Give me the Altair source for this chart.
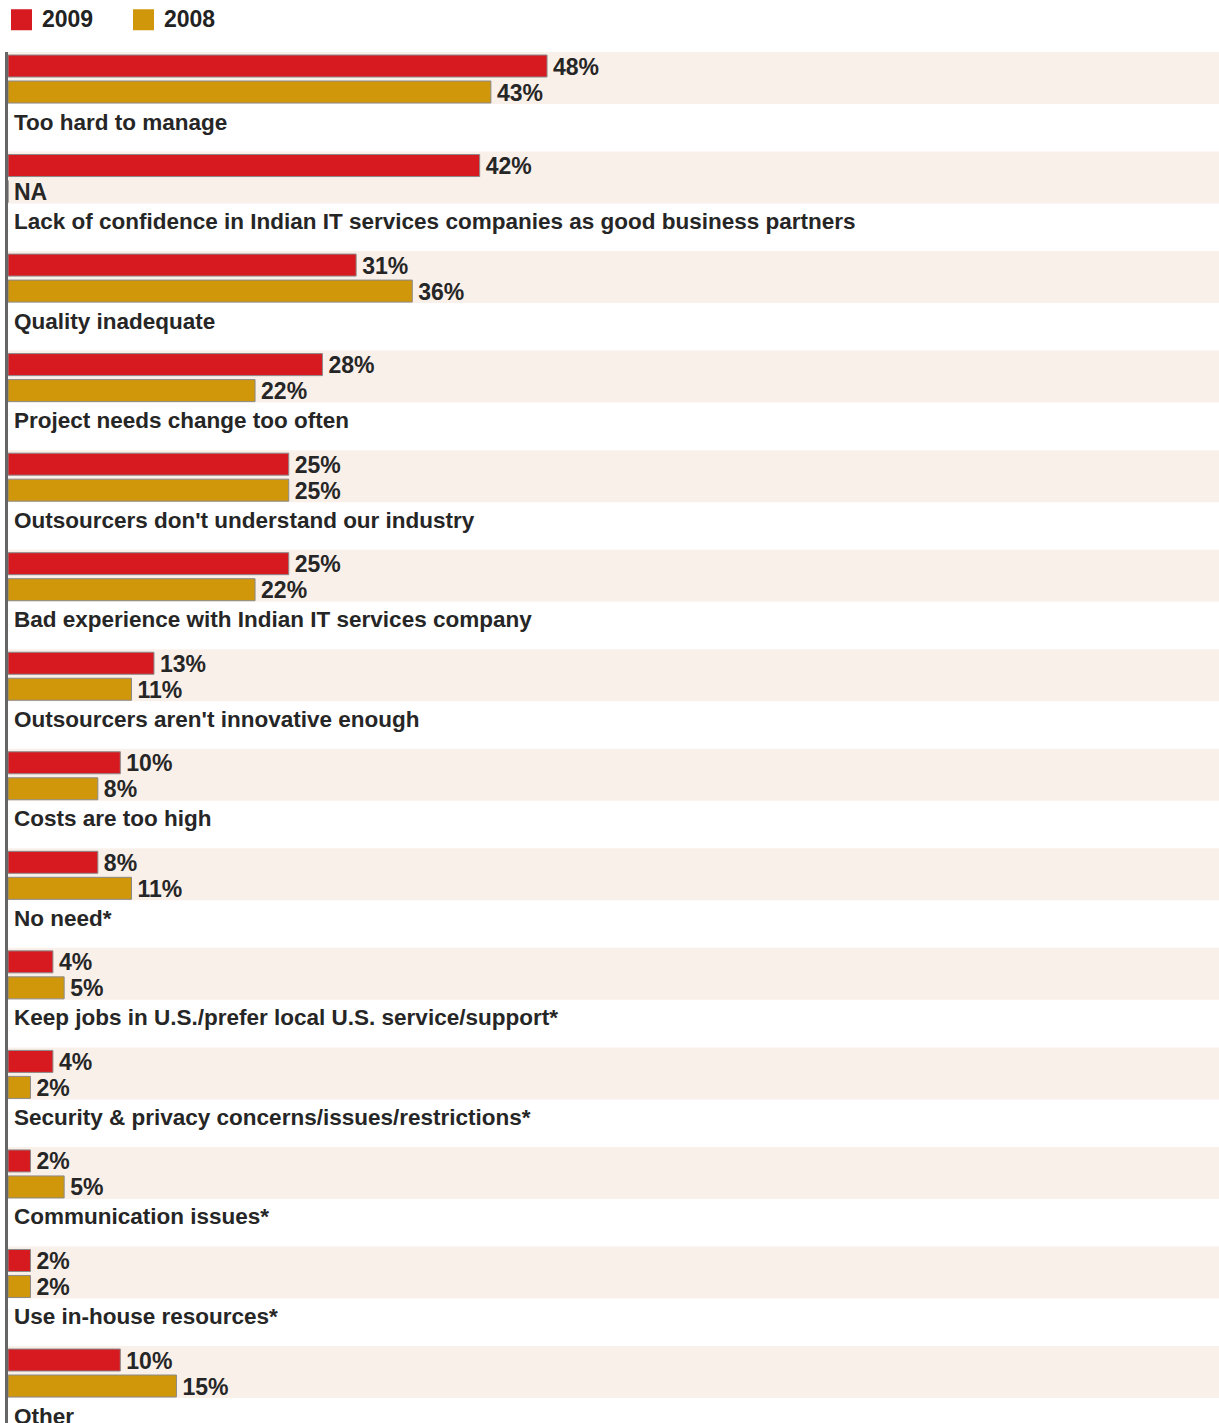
import altair as alt
import pandas as pd

categories = [
    "Too hard to manage",
    "Lack of confidence in Indian IT services companies as good business partners",
    "Quality inadequate",
    "Project needs change too often",
    "Outsourcers don't understand our industry",
    "Bad experience with Indian IT services company",
    "Outsourcers aren't innovative enough",
    "Costs are too high",
    "No need*",
    "Keep jobs in U.S./prefer local U.S. service/support*",
    "Security & privacy concerns/issues/restrictions*",
    "Communication issues*",
    "Use in-house resources*",
    "Other",
]
v2009 = [48, 42, 31, 28, 25, 25, 13, 10, 8, 4, 4, 2, 2, 10]
v2008 = [43, None, 36, 22, 25, 22, 11, 8, 11, 5, 2, 5, 2, 15]
series_names = ["2009", "2008"]
series_colors = ["#D71920", "#D0970A"]

# layout constants (styling)
W, H = 1211, 1371
PITCH = 99.54
PX_PER_PCT = 11.23
XMAX = W / PX_PER_PCT
FONT = "Liberation Sans"

rows = []
for i, cat in enumerate(categories):
    for s, vals in zip(series_names, [v2009, v2008]):
        v = vals[i]
        rows.append({
            "row": i,
            "category": cat,
            "series": s,
            "value": 0 if v is None else v,
            "label": "NA" if v is None else f"{v}%",
        })
df = pd.DataFrame(rows)
cat_df = pd.DataFrame({"row": list(range(len(categories))), "category": categories})

xs = alt.Scale(domain=[0, XMAX], nice=False, zero=False)
ys = alt.Scale(domain=[0, H], reverse=True, nice=False, zero=False)

band = alt.Chart(cat_df).mark_rect(color="#FAF0EA").transform_calculate(
    y0=f"datum.row * {PITCH}", y1=f"datum.row * {PITCH} + 52", x0="0", x1=f"{XMAX}"
).encode(
    x=alt.X("x0:Q", scale=xs, axis=None),
    x2="x1:Q",
    y=alt.Y("y0:Q", scale=ys, axis=None),
    y2="y1:Q",
)

bars_base = alt.Chart(df).transform_calculate(
    y0=f"datum.row * {PITCH} + (datum.series == '2009' ? 3 : 29)",
    y1=f"datum.row * {PITCH} + (datum.series == '2009' ? 25 : 51)",
    yc=f"datum.row * {PITCH} + (datum.series == '2009' ? 14.5 : 40.5)",
)

bars = bars_base.mark_rect(stroke="#8a8a8a", strokeWidth=1).encode(
    x=alt.X("value:Q", scale=xs, axis=None),
    x2=alt.datum(0),
    y=alt.Y("y0:Q", scale=ys, axis=None),
    y2="y1:Q",
    color=alt.Color(
        "series:N",
        scale=alt.Scale(domain=series_names, range=series_colors),
        legend=alt.Legend(
            title=None,
            orient="none",
            legendX=2,
            legendY=-44,
            direction="horizontal",
            symbolType="square",
            symbolSize=441,
            symbolStrokeWidth=0,
            symbolOpacity=1,
            labelFont=FONT,
            labelFontSize=23,
            labelFontWeight="bold",
            labelColor="#222222",
            labelOffset=9,
            columnPadding=38,
            padding=0,
        ),
    ),
)

pct = bars_base.mark_text(
    align="left", baseline="middle", dx=6, dy=1, font=FONT, fontSize=23,
    fontWeight="bold", color="#262626",
).encode(
    x=alt.X("value:Q", scale=xs, axis=None),
    y=alt.Y("yc:Q", scale=ys, axis=None),
    text="label:N",
)

cat_text = alt.Chart(cat_df).mark_text(
    align="left", baseline="middle", dx=6, font=FONT, fontSize=22.5,
    fontWeight="bold", color="#262626",
).transform_calculate(
    yc=f"datum.row * {PITCH} + 70.5", x0="0"
).encode(
    x=alt.X("x0:Q", scale=xs, axis=None),
    y=alt.Y("yc:Q", scale=ys, axis=None),
    text="category:N",
)

axis_line = alt.Chart(cat_df).mark_rule(color="#666666", strokeWidth=2).encode(
    x=alt.value(-1.5), y=alt.value(0), y2=alt.value(H)
)

chart = alt.layer(band, bars, pct, cat_text, axis_line).properties(
    width=W,
    height=H,
    padding={"left": 8, "top": 52, "right": 0, "bottom": 0},
    autosize=alt.AutoSizeParams(type="none"),
    background="white",
).configure_view(stroke=None)

chart.save("out.html", embed_options={"renderer": "svg", "actions": False})
